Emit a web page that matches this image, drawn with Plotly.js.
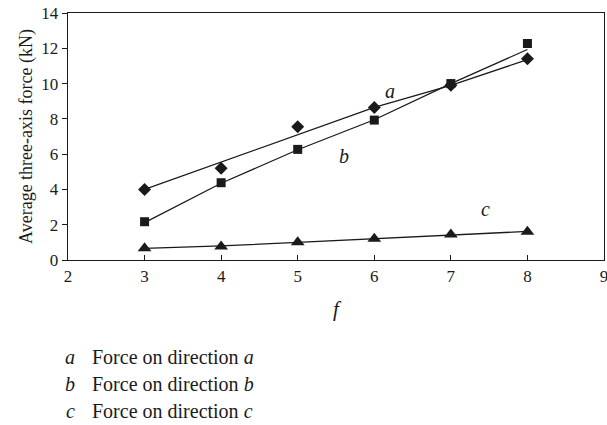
<!DOCTYPE html>
<html>
<head>
<meta charset="utf-8">
<script src="https://cdn.plot.ly/plotly-3.0.1.min.js"></script>
<style>
  html, body { margin: 0; padding: 0; background: #fff; }
  #chart { width: 607px; height: 425px; }
</style>
</head>
<body>
<div id="chart"></div>
<script>
// valeurs
var fValues = [3, 4, 5, 6, 7, 8];
var forceA = [4.0, 5.2, 7.55, 8.65, 9.9, 11.4];
var forceB = [2.17, 4.38, 6.27, 7.93, 10.0, 12.27];
var forceC = [0.66, 0.76, 1.0, 1.2, 1.45, 1.6];
// lignes tracées entre les points
var lineA = [4.0, 5.55, 7.1, 8.65, 9.9, 11.36];
var lineB = [2.12, 4.35, 6.25, 7.95, 10.0, 11.93];
var lineC = [0.66, 0.8, 1.0, 1.2, 1.42, 1.62];

var seriesLabels = ['a', 'b', 'c'];
var legendTexts = ['Force on direction ', 'Force on direction ', 'Force on direction '];

var ink = '#1a1a1a';
var serif = 'Liberation Serif, DejaVu Serif, serif';

function lineTrace(y) {
    return {
        x: fValues, y: y, mode: 'lines',
        line: { color: ink, width: 1.3 },
        hoverinfo: 'skip', showlegend: false
    };
}
function markerTrace(y, symbol, size) {
    return {
        x: fValues, y: y, mode: 'markers',
        marker: { symbol: symbol, size: size, color: ink },
        showlegend: false
    };
}

var data = [
    lineTrace(lineA), lineTrace(lineB), lineTrace(lineC),
    markerTrace(forceA, 'diamond', 10),
    markerTrace(forceB, 'square', 9),
    markerTrace(forceC, 'triangle-up', 12)
];

/** étiquettes a, b, c près des courbes */
var labelPos = [[6.2, 9.6], [5.6, 5.9], [7.45, 2.9]];
var annotations = labelPos.map(function (p, i) {
    return {
        x: p[0], y: p[1], xref: 'x', yref: 'y', showarrow: false,
        text: '<i>' + seriesLabels[i] + '</i>',
        font: { family: serif, size: 20, color: ink }
    };
});

/** légende sous le graphe */
for (let i = 0; i < 3; i++) {
    annotations.push({
        x: 70, y: 357 + 27 * i, xref: 'paper', yref: 'paper',
        showarrow: false, xanchor: 'center', yanchor: 'middle',
        text: '<i>' + seriesLabels[i] + '</i>',
        font: { family: serif, size: 20, color: ink }
    });
    annotations.push({
        x: 90, y: 357 + 27 * i, xref: 'paper', yref: 'paper',
        showarrow: false, xanchor: 'left', yanchor: 'middle',
        text: legendTexts[i] + '<i>' + seriesLabels[i] + '</i>',
        font: { family: serif, size: 20, color: ink }
    });
}
// conversion des positions pixel en coordonnées paper
var plotL = 68, plotR = 604, plotT = 13, plotB = 260;
annotations.forEach(function (a) {
    if (a.xref === 'paper') {
        a.x = (a.x - plotL) / (plotR - plotL);
        a.y = (plotB - a.y) / (plotB - plotT);
    }
});

var layout = {
    width: 607, height: 425,
    margin: { l: plotL, r: 607 - plotR, t: plotT, b: 425 - plotB },
    paper_bgcolor: '#fff', plot_bgcolor: '#fff',
    font: { family: serif, color: ink, size: 17 },
    showlegend: false,
    xaxis: {
        range: [2, 9], dtick: 1, tick0: 2,
        showgrid: false, zeroline: false,
        showline: true, linecolor: ink, linewidth: 1.3, mirror: true,
        ticks: 'inside', ticklen: 5, tickcolor: ink,
        ticklabeloverflow: 'allow',
        tickfont: { family: serif, size: 17, color: ink },
        title: { text: '<i>f</i>', font: { family: serif, size: 21, color: ink }, standoff: 16 }
    },
    yaxis: {
        range: [0, 14], dtick: 2,
        showgrid: false, zeroline: false,
        showline: true, linecolor: ink, linewidth: 1.3, mirror: true,
        ticks: 'outside', ticklen: 5, tickcolor: ink,
        tickfont: { family: serif, size: 17, color: ink },
        title: { text: 'Average three-axis force (kN)', font: { family: serif, size: 18, color: ink }, standoff: 4 }
    },
    annotations: annotations
};

Plotly.newPlot('chart', data, layout, { displayModeBar: false, staticPlot: true });
</script>
</body>
</html>
